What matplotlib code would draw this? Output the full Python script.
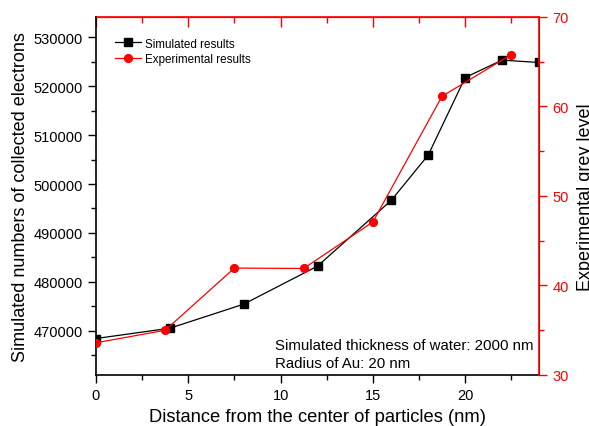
import matplotlib
matplotlib.use("Agg")
import matplotlib.pyplot as plt
from matplotlib.ticker import MultipleLocator

plt.rcParams['font.family'] = ['Liberation Sans', 'DejaVu Sans']

sim_x = [0, 4, 8, 12, 16, 18, 20, 22, 24]
sim_y = [468450, 470550, 475460, 483230, 496670, 505930, 521740, 525300, 524810]
exp_x = [0, 3.75, 7.5, 11.25, 15, 18.75, 22.5]
exp_y = [33.6, 35.0, 41.95, 41.9, 47.1, 61.15, 65.8]

RED = '#ff0000'
fig = plt.figure(figsize=(5.89, 4.27), dpi=100)
ax = fig.add_axes([96/589, 1-376/427, (539-96)/589, (376-18)/427])
ax2 = ax.twinx()

ax.plot(sim_x, sim_y, color='black', lw=0.9, marker='s', ms=5.2, label='Simulated results', zorder=3)
ax2.plot(exp_x, exp_y, color=RED, lw=0.9, marker='o', ms=5.6, label='Experimental results', zorder=3)

ax.set_xlim(0, 24)
ax.set_ylim(461000, 534100)
ax2.set_ylim(30, 70)

ax.xaxis.set_major_locator(MultipleLocator(5))
ax.xaxis.set_minor_locator(MultipleLocator(2.5))
ax.yaxis.set_major_locator(MultipleLocator(10000))
ax.yaxis.set_minor_locator(MultipleLocator(5000))
ax2.yaxis.set_major_locator(MultipleLocator(10))
ax2.yaxis.set_minor_locator(MultipleLocator(5))

ax.tick_params(axis='both', which='major', labelsize=10.5, length=6, width=1, direction='out')
ax.tick_params(axis='both', which='minor', length=3.5, width=1, direction='out')
ax.tick_params(axis='x', which='both', top=False)
ax2.tick_params(axis='y', which='major', labelsize=10.5, length=6, width=1, direction='out', colors=RED)
ax2.tick_params(axis='y', which='minor', length=3.5, width=1, direction='out', colors=RED)

# top axis with red inward ticks
axt = ax.secondary_xaxis('top')
axt.xaxis.set_major_locator(MultipleLocator(5))
axt.xaxis.set_minor_locator(MultipleLocator(2.5))
axt.tick_params(which='major', direction='in', length=7, width=1, colors=RED, labeltop=False)
axt.tick_params(which='minor', direction='in', length=4, width=1, colors=RED)
axt.spines['top'].set_color(RED)
axt.spines['top'].set_linewidth(1.2)

for s in ['left', 'bottom']:
    ax.spines[s].set_linewidth(1.2)
ax2.spines['right'].set_color(RED)
ax2.spines['right'].set_linewidth(1.2)
ax2.spines['top'].set_color(RED)
ax.spines['top'].set_color(RED)
for s in ['left', 'bottom']:
    ax2.spines[s].set_visible(False)

ax.set_xlabel('Distance from the center of particles (nm)', fontsize=13.2, labelpad=4)
ax.set_ylabel('Simulated numbers of collected electrons', fontsize=13, labelpad=3)
ax2.set_ylabel('Experimental grey level', fontsize=13, labelpad=6)

h1, l1 = ax.get_legend_handles_labels()
h2, l2 = ax2.get_legend_handles_labels()
leg = ax2.legend(h1 + h2, l1 + l2, loc='upper left', bbox_to_anchor=(0.02, 0.972), frameon=False,
                 fontsize=8.4, handlelength=2.2, handletextpad=0.3, labelspacing=0.3, markerscale=1.0)

ax.text(0.405, 0.085, 'Simulated thickness of water: 2000 nm', transform=ax.transAxes, fontsize=10.8, va='center')
ax.text(0.405, 0.033, 'Radius of Au: 20 nm', transform=ax.transAxes, fontsize=10.8, va='center')

fig.savefig('out.png', dpi=100)
